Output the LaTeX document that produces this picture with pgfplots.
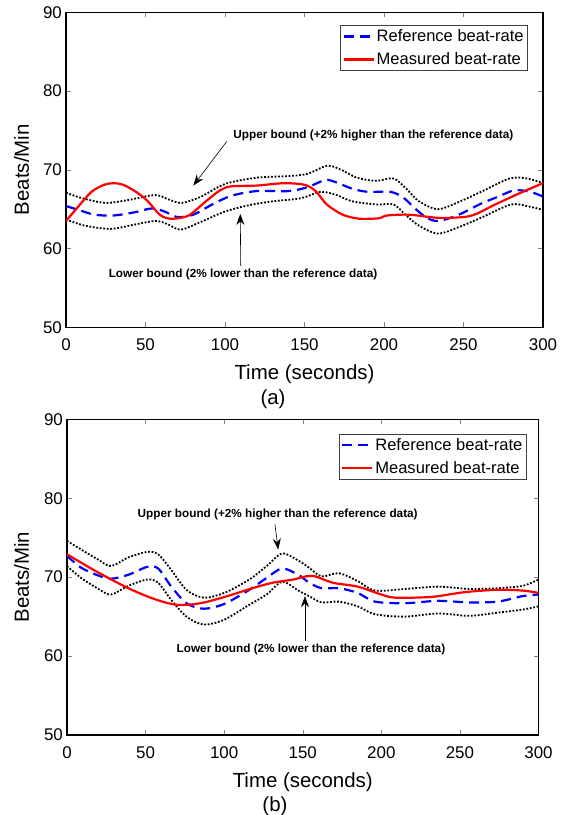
\documentclass[border=0pt]{standalone}
\usepackage{fontspec}
\setmainfont{Liberation Sans}
\usepackage{pgfplots}
\usepackage{pgfplotstable}
\pgfplotsset{compat=1.18}
\usetikzlibrary{arrows.meta}

% ---- panel (a) ----
\pgfplotstableread{
t v
0 65.4
8 64.9
18 64.3
30 64.2
43 64.6
54 65.1
62 64.7
70 64.0
80 64.3
92 65.6
104 66.7
120 67.3
140 67.3
152 67.8
163 68.7
170 68.4
180 67.6
190 67.2
204 67.2
212 66.5
220 65.0
227 63.9
234 63.5
246 64.2
261 65.7
272 66.6
282 67.4
292 67.2
300 66.6
}\refA
\pgfplotstableread{
t v
0 67.1
10 66.4
25 65.8
40 66.2
56 66.8
65 66.2
73 65.8
85 66.6
100 68.2
120 69.0
140 69.2
152 69.5
164 70.5
172 70.1
183 69.0
195 68.6
206 68.9
214 67.6
222 66.0
234 65.0
248 66.0
262 67.3
279 68.9
290 68.9
300 68.3
}\upA
\pgfplotstableread{
t v
0 63.7
12 62.9
28 62.5
42 63.0
56 63.5
64 63.1
72 62.4
85 63.4
100 64.7
115 65.5
130 66.0
148 66.4
160 67.2
170 66.8
180 66.0
195 65.6
206 65.6
214 64.2
222 62.9
234 61.9
248 62.8
262 64.0
280 65.6
292 65.3
300 64.9
}\loA
\pgfplotstableread{
t v
0 63.5
8 65.4
16 67.2
24 68.1
30 68.3
36 68.1
44 67.2
51 66.1
59 64.3
65 63.8
72 63.9
78 64.3
88 66.0
97 67.4
104 67.9
120 68.0
137 68.3
150 68.1
157 67.3
164 65.6
174 64.3
184 63.8
194 63.8
198 63.9
202 64.2
216 64.3
234 63.9
250 64.0
258 64.4
270 65.6
285 67.0
300 68.3
}\measA

% ---- panel (b) ----
\pgfplotstableread{
t v
0 72.7
9 71.2
20 70.2
28 69.8
39 70.3
51 71.3
58 71.1
66 68.9
76 66.7
87 66.0
100 66.6
116 68.4
127 69.9
137 71.1
148 70.2
154 69.3
162 68.6
173 68.6
185 68.0
196 66.9
215 66.7
236 67.0
256 66.8
274 66.9
290 67.6
300 67.8
}\refB
\pgfplotstableread{
t v
0 74.6
9 73.5
20 72.2
28 71.4
39 72.5
51 73.2
58 72.9
66 71.0
76 68.4
87 67.4
100 68.0
116 69.7
127 71.4
137 73.0
148 72.0
154 71.2
162 70.1
173 70.5
185 69.5
196 68.3
215 68.5
236 68.8
256 68.5
274 68.6
290 68.9
300 69.7
}\upB
\pgfplotstableread{
t v
0 71.4
9 69.9
20 68.5
28 67.8
39 68.9
51 69.7
58 69.3
66 67.2
76 65.0
87 64.0
100 64.6
116 66.5
127 67.8
137 69.4
148 68.2
154 67.6
162 66.8
173 66.9
185 66.3
196 65.3
215 65.0
236 65.4
256 65.1
274 65.5
290 65.9
300 66.3
}\loB
\pgfplotstableread{
t v
0 72.9
18 70.8
39 68.6
56 67.2
70 66.5
85 66.7
102 67.6
118 68.6
131 69.3
144 69.7
152 70.1
158 70.1
169 69.3
185 68.8
200 67.8
209 67.4
232 67.5
253 68.1
274 68.4
290 68.3
300 68.0
}\measB

\pgfplotsset{
  beat/.style={
    scale only axis, clip mode=individual,
    xmin=0, xmax=300, ymin=50, ymax=90,
    xtick={0,50,...,300}, ytick={50,60,...,90},
    tick align=inside, major tick length=5bp,
    line width=1.6bp,
    tick label style={font=\fontsize{17}{17}\selectfont,
      /pgf/number format/assume math mode=true},
    xticklabel style={yshift=-7.7bp},
    label style={font=\fontsize{20.5}{21}\selectfont},
    xlabel={Time (seconds)}, ylabel={Beats/Min},
    legend cell align=left,
    legend image code/.code={\draw[#1] (0bp,0bp) -- (30bp,0bp);},
    legend style={anchor=north east, font=\fontsize{16.6}{18}\selectfont,
      draw=black!75, line width=0.6bp, inner xsep=2bp, inner ysep=2.5bp,
      row sep=5.5bp, nodes={inner sep=2bp}},
  },
  bnd/.style={black, line width=1.8bp, dash pattern=on 1.8bp off 1.7bp, smooth, tension=0.5},
  refl/.style={blue, line width=2.2bp, dash pattern=on 10bp off 6bp, smooth, tension=0.5},
  meas/.style={red, line width=2.2bp, smooth, tension=0.5},
}

\begin{document}
\begin{tikzpicture}
\useasboundingbox (0,0) rectangle (566bp,-815bp);

\begin{axis}[beat, at={(66bp,-327.3bp)}, anchor=south west,
  width=477bp, height=315bp,
  xlabel style={at={(axis description cs:0.5,-0.1476)}, anchor=center},
  ylabel style={at={(axis description cs:-0.0929,0.5)}, anchor=center},
  legend style={at={(axis description cs:0.9686,0.9597)}},
]
\addplot[bnd, forget plot] table[x=t,y=v] {\upA};
\addplot[bnd, forget plot] table[x=t,y=v] {\loA};
\addplot[refl] table[x=t,y=v] {\refA};
\addlegendentry{Reference beat-rate}
\addplot[meas] table[x=t,y=v] {\measA};
\addlegendentry{Measured beat-rate}

\node[anchor=west, inner sep=0pt, font=\bfseries\fontsize{11.8}{12}\selectfont]
  at (axis cs:104.8,74.4) {Upper bound (+2\% higher than the reference data)};
\draw[line width=0.6bp, -{Stealth[length=11bp,width=8bp]}]
  (axis cs:101.1,73.6) -- (axis cs:80.1,68.0);
\node[anchor=west, inner sep=0pt, font=\bfseries\fontsize{11.8}{12}\selectfont]
  at (axis cs:26.4,56.7) {Lower bound (2\% lower than the reference data)};
\draw[line width=0.6bp, -{Stealth[length=11bp,width=8bp]}]
  (axis cs:109.9,57.8) -- (axis cs:109.6,64.4);
\node[font=\fontsize{20.5}{21}\selectfont] at (axis description cs:0.434,-0.2286) {(a)};
\end{axis}

\begin{axis}[beat, at={(67bp,-735bp)}, anchor=south west,
  width=471.5bp, height=315.7bp,
  xlabel style={at={(axis description cs:0.5,-0.148)}, anchor=center},
  ylabel style={at={(axis description cs:-0.0961,0.5)}, anchor=center},
  legend style={at={(axis description cs:0.975,0.955)}},
]
\addplot[bnd, forget plot] table[x=t,y=v] {\upB};
\addplot[bnd, forget plot] table[x=t,y=v] {\loB};
\addplot[refl] table[x=t,y=v] {\refB};
\addlegendentry{Reference beat-rate}
\addplot[meas] table[x=t,y=v] {\measB};
\addlegendentry{Measured beat-rate}

\node[anchor=west, inner sep=0pt, font=\bfseries\fontsize{11.8}{12}\selectfont]
  at (axis cs:44.5,78.0) {Upper bound (+2\% higher than the reference data)};
\draw[line width=0.6bp, -{Stealth[length=11bp,width=8bp]}]
  (axis cs:132.3,76.7) -- (axis cs:134.4,73.5);
\node[anchor=west, inner sep=0pt, font=\bfseries\fontsize{11.8}{12}\selectfont]
  at (axis cs:69.3,60.8) {Lower bound (2\% lower than the reference data)};
\draw[line width=0.6bp, -{Stealth[length=11bp,width=8bp]}]
  (axis cs:151.4,61.9) -- (axis cs:151.4,67.6);
\node[font=\fontsize{20.5}{21}\selectfont] at (axis description cs:0.441,-0.227) {(b)};
\end{axis}
\end{tikzpicture}
\end{document}
